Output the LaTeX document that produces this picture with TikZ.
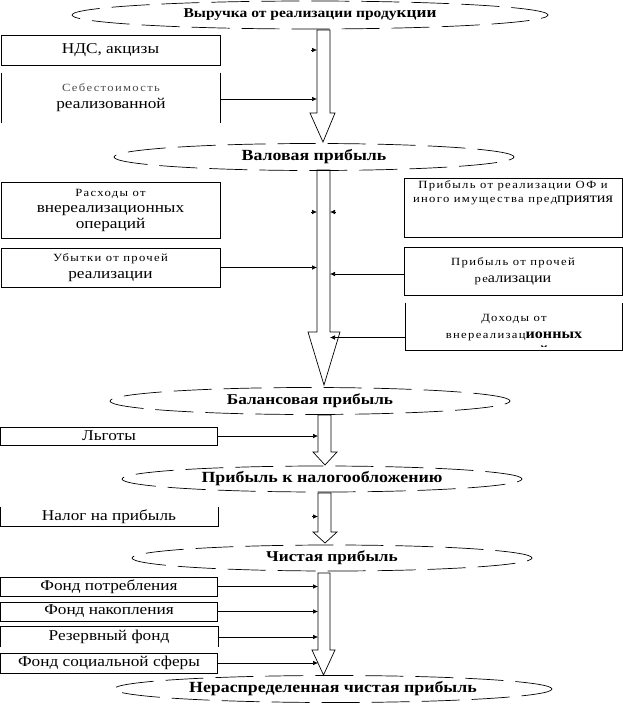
\documentclass[tikz,border=0pt]{standalone}
\usepackage{fontspec}
\setmainfont{Liberation Serif}[FakeStretch=1.15]
\usetikzlibrary{shapes.geometric,arrows.meta}
\newcommand\smtxt{\fontsize{11}{13}\selectfont\addfontfeature{LetterSpace=12}}
\newcommand\bgtxt{\fontsize{14}{15}\selectfont\addfontfeature{LetterSpace=0}}
\newcommand\bxtxt{\fontsize{15}{16}\selectfont}
\begin{document}
\begin{tikzpicture}[x=1pt,y=-1pt,
  ell/.style={draw,ellipse,dash pattern=on 38pt off 12pt,line width=0.7pt,inner sep=0pt,
    font=\bfseries\fontsize{15}{16}\selectfont},
  box/.style={inner sep=0pt,align=center,line width=0.7pt,font=\bxtxt},
  fbox/.style={box,draw},
  sm/.style={font=\smtxt},
  pipe/.style={draw,fill=white,line width=0.7pt},
  arr/.style={-{Latex[length=5pt,width=4.5pt]},line width=0.6pt},
  edge/.style={line width=0.7pt}
]
\useasboundingbox[fill=white] (0,0) rectangle (623,704);

% ---- pipes (wide hollow arrows)
\draw[pipe] (317,30) -- (317,113) -- (310,113) -- (323,142) -- (335,113) -- (330,113) -- (330,30) -- cycle;
\draw[pipe] (317,170) -- (317,332) -- (308,332) -- (324,385) -- (340,332) -- (330,332) -- (330,170) -- cycle;
\draw[pipe] (318,415) -- (318,452) -- (313,452) -- (325,465) -- (337,452) -- (331,452) -- (331,415) -- cycle;
\draw[pipe] (318,493) -- (318,532) -- (313,532) -- (325,543) -- (337,532) -- (331,532) -- (331,493) -- cycle;
\draw[pipe] (318,573) -- (318,650) -- (312,650) -- (323.5,675) -- (335,650) -- (330,650) -- (330,573) -- cycle;

\coordinate (p1L) at (317,0);
\coordinate (p2L) at (317,0);
\coordinate (p2R) at (330,0);
\coordinate (p3L) at (318,0);
\coordinate (p4L) at (318,0);
\coordinate (p5L) at (318,0);

% ---- ellipses
\node[ell,minimum width=476,minimum height=28] (e1) at (310,15)
  {\fontsize{13.5}{15}\selectfont Выручка от реализации проду{\fontsize{15}{15}\selectfont кции}};
\node[ell,minimum width=400,minimum height=27] (e2) at (314,157) {\fontsize{15.5}{16}\selectfont Валовая прибыль};
\node[ell,minimum width=400,minimum height=27] (e3) at (310,401) {Балансовая прибыль};
\node[ell,minimum width=400,minimum height=26] (e4) at (322,479) {\fontsize{15.5}{16}\selectfont Прибыль к налогообложению};
\node[ell,minimum width=400,minimum height=26] (e5) at (332,558) {Чистая прибыль};
\node[ell,minimum width=438,minimum height=27] (e6) at (333,689) {\fontsize{15.5}{16}\selectfont Нераспределенная чистая прибыль};

% ---- left boxes
\node[fbox,minimum width=219,minimum height=30] (nds) at (110.5,50) {НДС, акцизы};
\node[box,minimum width=218,minimum height=50] (seb) at (111,98)
  {{\smtxt\color{black!70}Себестоимость}\\[1pt]реализованной};
\draw[edge] (seb.north west) -- (seb.south west);
\draw[edge] (seb.north east) -- (seb.south east);
\node[fbox,minimum width=219,minimum height=56] (ras) at (110.5,210)
  {{\smtxt Расходы от}\\[0pt]внереализационных\\[0pt]операций};
\node[fbox,minimum width=219,minimum height=39] (ub) at (110.5,267.5)
  {{\smtxt Убытки от прочей}\\[1pt]реализации};
\node[fbox,minimum width=217,minimum height=18] (lg) at (109,436) {Льготы};
\node[box,minimum width=217,minimum height=19] (nal) at (109,516.5) {Налог на прибыль};
\draw[edge] (nal.north west) -- (nal.south west) -- (nal.south east) -- (nal.north east);
\node[fbox,minimum width=217,minimum height=19] (f1) at (109,586.5) {Фонд потребления};
\node[fbox,minimum width=217,minimum height=19] (f2) at (109,611.5) {Фонд накопления};
\node[box,minimum width=217,minimum height=20] (f3) at (109,637) {Резервный фонд};
\draw[edge] (f3.south west) -- (f3.north west) -- (f3.north east) -- (f3.south east);
\node[fbox,minimum width=217,minimum height=20] (f4) at (109,663) {Фонд социальной сферы};

% ---- right boxes
\node[fbox,minimum width=218,minimum height=59] (r1) at (513,207.5) {};
\node[box,sm,anchor=north] (r1t) at (513,180)
  {Прибыль от реализации ОФ и\\[1pt]иного имущества пред{\bgtxt приятия}};
\node[fbox,minimum width=218,minimum height=48] (r2) at (513,271)
  {{\smtxt Прибыль от прочей}\\[1pt]{\smtxt ре}{\bgtxt ализации}};
\node[box,minimum width=216,minimum height=47] (r3) at (514,326.5) {};
\node[box,sm,anchor=base] (r3a) at (514,321) {Доходы от};
\node[box,sm,anchor=base] (r3b) at (514,338) {внереализац{\bgtxt\bfseries ионных}};
\begin{scope}
  \clip (404,300) rectangle (624,346);
  \node[box,anchor=base] (r3c) at (514,355) {\bgtxt\bfseries операций};
\end{scope}
\draw[edge] (r3.north west) -- (r3.south west) -- (r3.south east) -- (r3.north east);

% ---- connectors
\draw[arr] ([xshift=-6pt]nds.east -| p1L) -- (nds.east -| p1L);
\draw[arr] ([yshift=-1pt]seb.east) -- ([yshift=-1pt]seb.east -| p1L);
\draw[arr] ([xshift=-6pt,yshift=-2pt]ras.east -| p2L) -- ([yshift=-2pt]ras.east -| p2L);
\draw[arr] ([xshift=6pt,yshift=-2pt]ras.east -| p2R) -- ([yshift=-2pt]ras.east -| p2R);
\draw[arr] (ub.east) -- (ub.east -| p2L);
\draw[arr] ([yshift=-3pt]r2.west) -- ([yshift=-3pt]r2.west -| p2R);
\draw[arr] ([yshift=-11pt]r3.west) -- ([yshift=-11pt]r3.west -| p2R);
\draw[arr] (lg.east) -- (lg.east -| p3L);
\draw[arr] ([xshift=-6pt]nal.east -| p4L) -- (nal.east -| p4L);
\draw[arr] (f1.east) -- (f1.east -| p5L);
\draw[arr] (f2.east) -- (f2.east -| p5L);
\draw[arr] (f3.east) -- (f3.east -| p5L);
\draw[arr] (f4.east) -- (f4.east -| p5L);
\end{tikzpicture}
\end{document}
